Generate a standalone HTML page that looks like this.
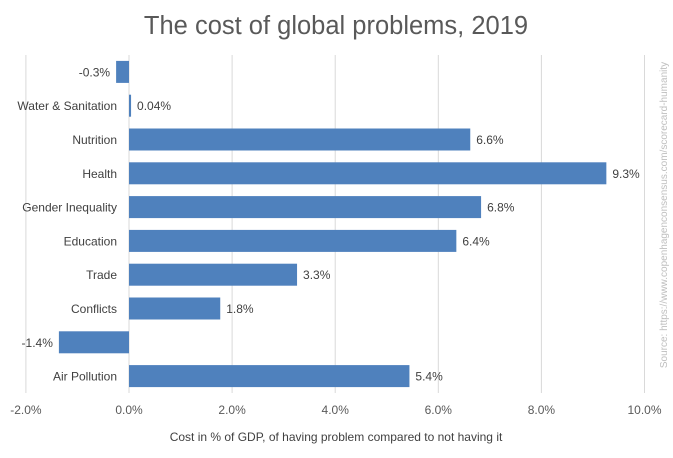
<!DOCTYPE html>
<html><head><meta charset="utf-8"><style>
body{margin:0;background:#fff;font-family:"Liberation Sans",sans-serif;}
svg text{font-family:"Liberation Sans",sans-serif;}
</style></head><body>
<svg id="c" width="673" height="453">
<text x="336" y="34" text-anchor="middle" font-size="25.5" fill="#595959">The cost of global problems, 2019</text>
<g id="grid"></g><g id="bars"></g>
<text x="336" y="441" text-anchor="middle" font-size="12" fill="#404040">Cost in % of GDP, of having problem compared to not having it</text>
<text transform="translate(667,215) rotate(-90)" text-anchor="middle" font-size="10" fill="#bfbfbf">Source: https://www.copenhagenconsensus.com/scorecard-humanity</text>
</svg>
<script>
const categories=["","Water & Sanitation","Nutrition","Health","Gender Inequality","Education","Trade","Conflicts","","Air Pollution"];
const values=[-0.25,0.04,6.62,9.26,6.83,6.35,3.26,1.77,-1.36,5.44];
const valueLabels=["-0.3%","0.04%","6.6%","9.3%","6.8%","6.4%","3.3%","1.8%","-1.4%","5.4%"];
const ticks=[-2,0,2,4,6,8,10];
const tickLabels=["-2.0%","0.0%","2.0%","4.0%","6.0%","8.0%","10.0%"];
const NS="http://www.w3.org/2000/svg";
const plotTop=55,plotBottom=393,band=(plotBottom-plotTop)/categories.length,bh=22;
const xs=v=>129+v*51.55;
const ys=i=>plotTop+band*i+band/2;
const g=document.getElementById('grid'),b=document.getElementById('bars');
function mk(p,t,a){const e=document.createElementNS(NS,t);for(const k in a)e.setAttribute(k,a[k]);p.appendChild(e);return e;}
ticks.forEach((t,i)=>{
 const l=mk(g,'line',{x1:xs(t),x2:xs(t),y1:plotTop,y2:plotBottom,stroke:'#d9d9d9','stroke-width':1});
 
 
 const tx=mk(g,'text',{x:xs(t),y:414,'text-anchor':'middle','font-size':12,fill:'#595959'});
 tx.textContent=tickLabels[i];
 
 
});
values.forEach((v,i)=>{
 const x0=Math.min(xs(0),xs(v)),w=Math.abs(xs(v)-xs(0));
 const r=mk(b,'rect',{x:x0,y:ys(i)-bh/2,width:Math.max(w,1.5),height:bh,fill:'#4f81bd'});
 
 
 if(categories[i]){
  const c=mk(b,'text',{x:117,y:ys(i)+4.5,'text-anchor':'end','font-size':12,fill:'#404040'});
  c.textContent=categories[i];
  
  
 }
 const lbl=mk(b,'text',{x:v<0?xs(v)-6:xs(v)+6,y:ys(i)+4.5,'text-anchor':v<0?'end':'start','font-size':12,fill:'#404040'});
 lbl.textContent=valueLabels[i];
 
 
});
</script>
</body></html>
